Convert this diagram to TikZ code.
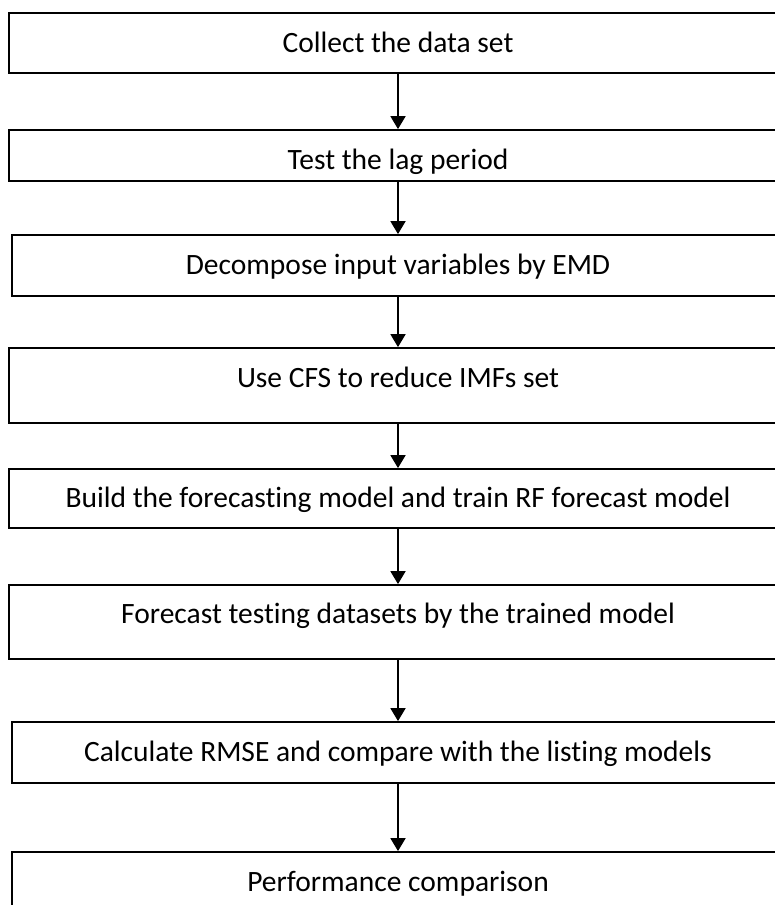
\documentclass[tikz,border=0pt]{standalone}
\usepackage{fontspec}
\setmainfont{Carlito}[Ligatures=NoCommon]
\usetikzlibrary{arrows.meta, positioning}
\tikzset{->,>={Triangle[width=15pt,length=13pt]},
  stage/.style={draw, rectangle, line width=1.8pt, inner sep=0pt,
    minimum width=778pt, minimum height=60pt, text height=18.5pt, text depth=0pt,
    font=\fontsize{29.5}{34}\selectfont},
  narrow/.style={minimum width=772pt},
  high/.style={text depth=15pt}}

\begin{document}
\begin{tikzpicture}[x=1pt, y=-1pt]
\useasboundingbox (0,0) rectangle (775,905);
\clip (0,0) rectangle (775,905);
\node[stage] (s1) at (398,43) {Collect the data set};
\node[stage, minimum height=51pt, text height=27.5pt] (s2) at (398,155.5) {Test the lag period};
\node[stage, narrow, minimum height=61pt] (s3) at (398,265.5) {Decompose input variables by EMD};
\node[stage, high, minimum height=75pt] (s4) at (398,385.5) {Use CFS to reduce IMFs set};
\node[stage, minimum height=59pt] (s5) at (398,498.5) {Build the forecasting model and train RF forecast model};
\node[stage, high, minimum height=74pt] (s6) at (398,622) {Forecast testing datasets by the trained model};
\node[stage, narrow, minimum height=61pt] (s7) at (398,752.5) {Calculate RMSE and compare with the listing models};
\node[stage, narrow, minimum height=61pt] (s8) at (398,882.5) {Performance comparison};
\draw[line width=1.8pt]
(s1) edge (s2)
(s2) edge (s3)
(s3) edge (s4)
(s4) edge (s5)
(s5) edge (s6)
(s6) edge (s7)
(s7) edge (s8);
\end{tikzpicture}
\end{document}
